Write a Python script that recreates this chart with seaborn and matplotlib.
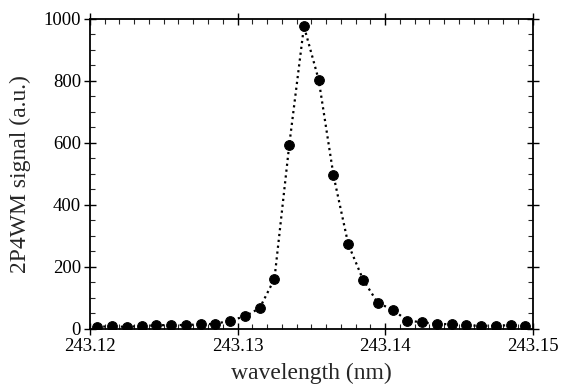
import numpy as np
import pandas as pd
import matplotlib
matplotlib.use("Agg")
import matplotlib.pyplot as plt
from matplotlib.ticker import MultipleLocator
import seaborn as sns

wavelength = [243.1205 + 0.001 * k for k in range(30)]
signal = [6, 9, 6, 10, 11, 13, 12, 15, 16, 27, 40, 67, 161, 592, 976,
          803, 495, 273, 159, 84, 62, 27, 21, 16, 15, 11, 10, 10, 12, 10]
xticks = [243.12, 243.13, 243.14, 243.15]
xticklabels = ["243.12", "243.13", "243.14", "243.15"]
yticks = [0, 200, 400, 600, 800, 1000]

sns.set_theme(style="ticks")
plt.rcParams['font.family'] = ['Liberation Serif', 'DejaVu Serif']

df = pd.DataFrame({"wavelength": wavelength, "signal": signal})

fig = plt.figure(figsize=(5.62, 3.86), dpi=100)
ax = fig.add_axes([0.160, 0.148, 0.788, 0.803])
sns.lineplot(data=df, x="wavelength", y="signal", ax=ax, color="black",
             linestyle=":", linewidth=1.6, marker="o", markersize=7,
             markeredgecolor="black", markerfacecolor="black")

ax.set_xlim(243.12, 243.15)
ax.set_ylim(0, 1000)
ax.set_xticks(xticks)
ax.set_xticklabels(xticklabels)
ax.set_yticks(yticks)
ax.xaxis.set_minor_locator(MultipleLocator(0.001))
ax.yaxis.set_minor_locator(MultipleLocator(50))
ax.tick_params(which="major", direction="inout", length=9, width=1.0,
               top=True, right=True, labelsize=13.5, colors="black", pad=2)
ax.tick_params(which="minor", direction="in", length=3.5, width=0.8,
               top=True, right=True)
for s in ax.spines.values():
    s.set_linewidth(1.3)
    s.set_color("black")
ax.set_xlabel("wavelength (nm)", fontsize=17, labelpad=6)
ax.set_ylabel("2P4WM signal (a.u.)", fontsize=17, labelpad=9)

fig.savefig("out.png", dpi=100)
